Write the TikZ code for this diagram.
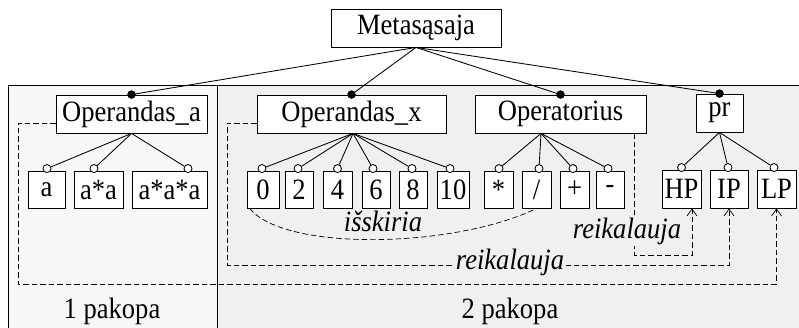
\documentclass[tikz,border=0pt]{standalone}
\usepackage{fontspec}
\setmainfont{Liberation Serif}[FakeStretch=0.9]
\usetikzlibrary{calc,arrows.meta}
\definecolor{paneA}{gray}{0.97}
\definecolor{paneB}{gray}{0.94}
\begin{document}
\begin{tikzpicture}[x=1pt,y=-1pt,line width=0.85pt,
  every node/.style={font=\fontsize{29.5}{34}\selectfont},
  box/.style={draw,fill=white,inner sep=1pt,minimum height=37pt},
  port/.style={circle,draw,fill=white,inner sep=0pt,minimum size=8pt},
  dot/.style={circle,fill=black,inner sep=0pt,minimum size=8.5pt},
  link/.style={dash pattern=on 5.5pt off 3pt,line width=0.7pt},
  req/.style={link,-{Straight Barb[length=7pt,width=10pt]}},
  tag/.style={font=\fontsize{29.5}{34}\selectfont\itshape,inner sep=2pt}]
\useasboundingbox (0,0) rectangle (799,328);
\clip (0,0) rectangle (799,328);

% the two stage panels
\fill[paneA] (8,85) rectangle (217,340);
\fill[paneB] (217,85) rectangle (810,340);
\draw (8,340) -- (8,85) -- (810,85);
\draw (217,85) -- (217,340);

% helper coordinates for the dashed links
\coordinate (h1) at (0,123);
\coordinate (v3) at (634,0);
\coordinate (v4) at (692,0);

% feature boxes
\node[box,minimum width=170pt,minimum height=38pt] (meta) at (416,28) {Metasąsaja};
\node[box,minimum width=151pt,minimum height=38pt] (opa) at (131.5,114) {Operandas\_a};
\node[box,minimum width=189pt,minimum height=38pt] (opx) at (351.5,114) {Operandas\_x};
\node[box,minimum width=171pt,minimum height=38pt] (opo) at (560.5,114) {Operatorius};
\node[box,minimum width=47pt,minimum height=38pt] (pr) at (719.5,113) {pr};

\foreach \n/\x/\w/\t in {a/46.5/37/a, aa/98.5/49/a*a, aaa/169.5/75/a*a*a,
    n0/263/32/0, n2/299/28/2, n4/337.5/29/4, n6/376/28/6, n8/413/28/8,
    n10/453/32/10, mul/498.5/29/*, plus/574.5/29/+, minus/610/28/-}
  \node[box,minimum width=\w pt] (\n) at (\x,189.5) {\t};
\node[box,minimum width=29pt] (div) at (536.5,189.5) {/};
\node[box,minimum width=39pt,minimum height=38pt] (hp) at (681.5,189) {HP};
\node[box,minimum width=38pt,minimum height=38pt] (ip) at (729,189) {IP};
\node[box,minimum width=39pt,minimum height=38pt] (lp) at (776.5,189) {LP};

% dashed constraint links
\draw[req] (opa.west |- h1) -- (18,123) -- (18,284) -| (lp.south);
\draw[req] (opx.west |- h1) -- (227,123) -- (227,265) -| (ip.south);
\node[tag,fill=paneB] at (510,262) {reikalauja};
\draw[req] (opo.south -| v3) -- (634,255) -| (hp.south -| v4);
\node[tag,fill=paneB] at (627,231) {reikalauja};
\draw[link] ($(n0.south west)+(3,0)$) .. controls (285,252) and (455,248) .. (div.south);
\node[tag] at (383,221) {išskiria};

% ports on the child boxes
\foreach \n/\d in {a/0.5, aa/-4.5, aaa/18.5, n0/-1, n2/-1, n4/0, n6/-3, n8/-1,
    n10/-3, mul/0.5, div/2.5, plus/-1.5, minus/-2, hp/0, ip/-1, lp/-2.5}
  \node[port] (c\n) at ($(\n.north)+(\d,-2)$) {};

% group apexes
\coordinate (apA) at (opa.south);
\coordinate (apX) at ($(opx.south)+(1.5,0)$);
\coordinate (apO) at ($(opo.south)+(-19.5,0)$);
\coordinate (apP) at (pr.south);

% group arcs
\begin{scope}
  \clip (apA) -- (ca) -- (caaa) -- cycle;
  \draw (apA) ellipse [x radius=30pt,y radius=18pt];
\end{scope}
\begin{scope}
  \clip (apX) -- (cn0) -- (cn10) -- cycle;
  \draw (apX) ellipse [x radius=48pt,y radius=17pt];
\end{scope}
\begin{scope}
  \clip (apO) -- (cmul) -- (cminus) -- cycle;
  \draw (apO) ellipse [x radius=24pt,y radius=18pt];
\end{scope}
\begin{scope}
  \clip (apP) -- (chp) -- (clp) -- cycle;
  \fill (apP) ellipse [x radius=23pt,y radius=19pt];
\end{scope}

% tree edges
\foreach \n in {a,aa,aaa} \draw (apA) -- (c\n);
\foreach \n in {n0,n2,n4,n6,n8,n10} \draw (apX) -- (c\n);
\foreach \n in {mul,div,plus,minus} \draw (apO) -- (c\n);
\foreach \n in {hp,ip,lp} \draw (apP) -- (c\n);

% mandatory links from the root
\foreach \n in {opa,opx,opo,pr} {
  \node[dot] (d\n) at (\n.north) {};
  \draw (meta.south) -- (d\n.center);
}

% stage labels
\node at (112,311) {1 pakopa};
\node at (510,311) {2 pakopa};
\end{tikzpicture}
\end{document}
